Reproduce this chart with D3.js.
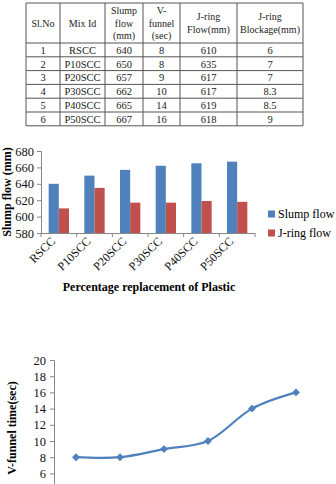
<!DOCTYPE html>
<html>
<head>
<meta charset="utf-8">
<script src="https://cdn.jsdelivr.net/npm/d3@7"></script>
<style>
  body { margin: 0; background: #fff; }
  svg { display: block; font-family: "Liberation Serif", "DejaVu Serif", serif; }
</style>
</head>
<body>
<div class="sheet"></div>
<script>
const serialNos = [1, 2, 3, 4, 5, 6];
const mixIds = ["RSCC", "P10SCC", "P20SCC", "P30SCC", "P40SCC", "P50SCC"];
const slumpFlow = [640, 650, 657, 662, 665, 667];
const vFunnel = [8, 8, 9, 10, 14, 16];
const jringFlow = [610, 635, 617, 617, 619, 618];
const jringBlockage = ["6", "7", "7", "8.3", "8.5", "9"];
const headers = [["Sl.No"], ["Mix Id"], ["Slump", "flow", "(mm)"], ["V-", "funnel", "(sec)"], ["J-ring", "Flow(mm)"], ["J-ring", "Blockage(mm)"]];
const barTicks = [580, 600, 620, 640, 660, 680];
const lineTicks = [0, 2, 4, 6, 8, 10, 12, 14, 16, 18, 20];

const blue = "#4F81BD", red = "#C0504D", axisGrey = "#868686";

const svg = d3.select(".sheet").append("svg")
  .attr("width", 336)
  .attr("height", 484);
svg.append("rect").attr("width", 336).attr("height", 484).attr("fill", "#fff");

drawTable();
drawBarChart();
drawLineChart();

function drawTable() {
  const colEdges = [26, 60, 105, 143, 180, 237, 303];
  const top = 3, headBottom = 43, rowH = 13.8;
  const g = svg.append("g").attr("font-size", 10.5).attr("fill", "#222");

  // caption, mostly cut off at the top edge like in the scan
  g.append("text").attr("x", 180).attr("y", -2).attr("text-anchor", "middle")
    .attr("font-size", 11).text("Table 5: Workability properties");

  const bottom = headBottom + rowH * mixIds.length;
  const lines = g.append("g").attr("stroke", "#555").attr("stroke-width", 1);
  colEdges.forEach(x => lines.append("line").attr("x1", x).attr("x2", x).attr("y1", top).attr("y2", bottom));
  [top, headBottom].concat(mixIds.map((d, i) => headBottom + rowH * (i + 1)))
    .forEach(y => lines.append("line").attr("x1", colEdges[0]).attr("x2", colEdges[6]).attr("y1", y).attr("y2", y));

  headers.forEach((h, c) => {
    const cx = (colEdges[c] + colEdges[c + 1]) / 2;
    const lh = h.length === 3 ? 12.5 : 13;
    const y0 = (top + headBottom) / 2 - (h.length - 1) * lh / 2 + 3.5;
    h.forEach((t, k) => g.append("text").attr("x", cx).attr("y", y0 + k * lh)
      .attr("text-anchor", "middle").attr("font-size", 10).text(t));
  });

  const rows = mixIds.map((m, i) => [serialNos[i], m, slumpFlow[i], vFunnel[i], jringFlow[i], jringBlockage[i]]);
  rows.forEach((r, i) => {
    r.forEach((v, c) => {
      g.append("text")
        .attr("x", (colEdges[c] + colEdges[c + 1]) / 2)
        .attr("y", headBottom + rowH * i + rowH / 2 + 3.8)
        .attr("text-anchor", "middle")
        .text(v);
    });
  });
}

function drawBarChart() {
  const left = 41, right = 255, top = 151, bottom = 233;
  const x = d3.scaleBand().domain(mixIds).range([left, right]).paddingInner(0.43).paddingOuter(0.215);
  const y = d3.scaleLinear().domain([580, 680]).range([bottom, top]);
  const bw = x.bandwidth() / 2;

  const bars = svg.append("g");
  bars.selectAll(".slump").data(mixIds).enter().append("rect")
    .attr("x", d => x(d)).attr("y", (d, i) => y(slumpFlow[i]))
    .attr("width", bw).attr("height", (d, i) => bottom - y(slumpFlow[i]))
    .attr("fill", blue);
  bars.selectAll(".jring").data(mixIds).enter().append("rect")
    .attr("x", d => x(d) + bw).attr("y", (d, i) => y(jringFlow[i]))
    .attr("width", bw).attr("height", (d, i) => bottom - y(jringFlow[i]))
    .attr("fill", red);

  const yAxis = svg.append("g")
    .attr("transform", "translate(" + left + ",0)")
    .call(d3.axisLeft(y).tickValues(barTicks).tickSize(4).tickPadding(3))
    .attr("font-family", null).attr("font-size", 12.5);
  yAxis.selectAll("line, path").attr("stroke", axisGrey);
  yAxis.selectAll("text").attr("fill", "#111");

  // x axis line with ticks at category boundaries
  const xg = svg.append("g").attr("stroke", axisGrey);
  xg.append("line").attr("x1", left).attr("x2", right).attr("y1", bottom + 0.5).attr("y2", bottom + 0.5);
  const step = (right - left) / mixIds.length;
  d3.range(mixIds.length + 1).forEach(i => {
    xg.append("line").attr("x1", left + i * step).attr("x2", left + i * step)
      .attr("y1", bottom).attr("y2", bottom + 4);
  });

  svg.append("g").selectAll("text").data(mixIds).enter().append("text")
    .attr("transform", d => "translate(" + (x(d) + bw - 3) + "," + (bottom + 9) + ") rotate(-45)")
    .attr("text-anchor", "end")
    .attr("font-size", 12)
    .attr("fill", "#111")
    .text(d => d);

  svg.append("text")
    .attr("transform", "translate(11," + ((top + bottom) / 2) + ") rotate(-90)")
    .attr("text-anchor", "middle").attr("font-weight", "bold").attr("font-size", 12)
    .text("Slump flow (mm)");

  svg.append("text")
    .attr("x", 149).attr("y", 291)
    .attr("text-anchor", "middle").attr("font-weight", "bold").attr("font-size", 12)
    .text("Percentage replacement of Plastic");

  const legend = svg.append("g");
  [["Slump flow", blue, 214], ["J-ring flow", red, 233]].forEach(([t, c, cy]) => {
    legend.append("rect").attr("x", 268).attr("y", cy - 3.5).attr("width", 7).attr("height", 7).attr("fill", c);
    legend.append("text").attr("x", 278).attr("y", cy + 4).attr("font-size", 12).text(t);
  });
}

function drawLineChart() {
  const left = 54, right = 318, top = 360, bottom = 522;
  const x = d3.scalePoint().domain(mixIds).range([left, right]).padding(0.5);
  const y = d3.scaleLinear().domain([0, 20]).range([bottom, top]);

  const yAxis = svg.append("g")
    .attr("transform", "translate(" + left + ",0)")
    .call(d3.axisLeft(y).tickValues(lineTicks).tickSize(4).tickPadding(4))
    .attr("font-family", null).attr("font-size", 12.5);
  yAxis.selectAll("line, path").attr("stroke", axisGrey);
  yAxis.selectAll("text").attr("fill", "#111");

  const line = d3.line()
    .x((d, i) => x(mixIds[i]))
    .y(d => y(d))
    .curve(d3.curveCatmullRom.alpha(0.5));

  svg.append("path").datum(vFunnel)
    .attr("d", line)
    .attr("fill", "none")
    .attr("stroke", blue)
    .attr("stroke-width", 2.2);

  svg.append("g").selectAll("path").data(vFunnel).enter().append("path")
    .attr("d", d3.symbol(d3.symbolDiamond2, 40))
    .attr("transform", (d, i) => "translate(" + x(mixIds[i]) + "," + y(d) + ")")
    .attr("fill", blue);

  svg.append("text")
    .attr("transform", "translate(16,428) rotate(-90)")
    .attr("text-anchor", "middle").attr("font-weight", "bold").attr("font-size", 12)
    .text("V-funnel time(sec)");
}
</script>
</body>
</html>
